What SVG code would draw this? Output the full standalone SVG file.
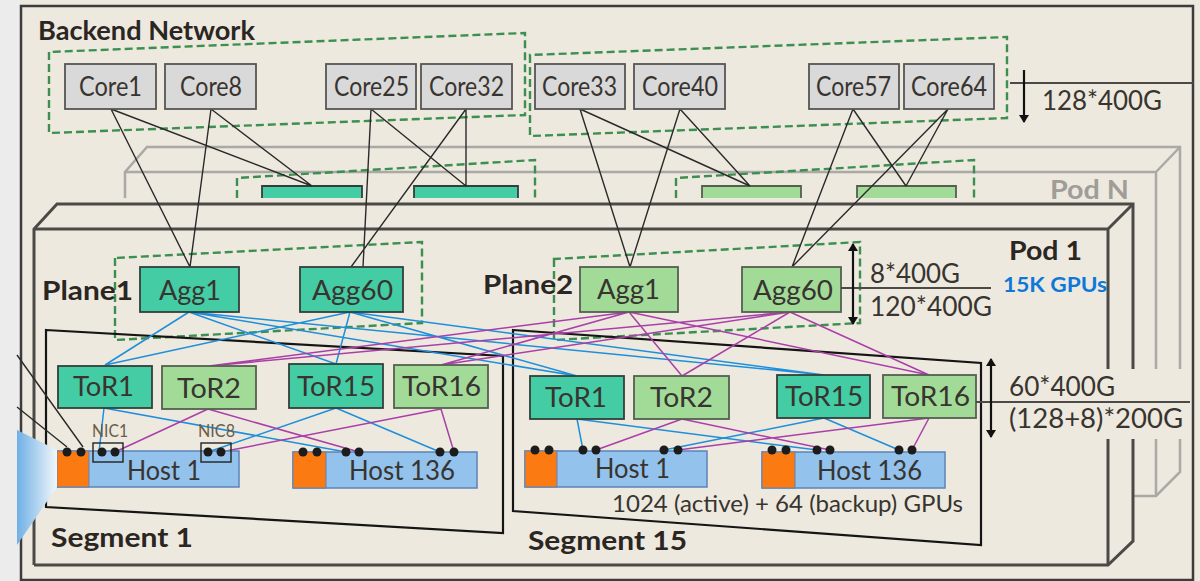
<svg xmlns="http://www.w3.org/2000/svg" width="1200" height="581" viewBox="0 0 1200 581">
<defs>
<linearGradient id="fan" x1="0" y1="0" x2="1" y2="0"><stop offset="0" stop-color="#6FB0E6"/><stop offset="1" stop-color="#F2F7FA"/></linearGradient>
<marker id="ah" viewBox="0 0 8 10" refX="7" refY="5" markerWidth="8" markerHeight="10" orient="auto-start-reverse" markerUnits="userSpaceOnUse"><path d="M0 0L8 5L0 10Z" fill="#111"/></marker>
</defs>
<style>
text{font-family:"Lato","Open Sans","Liberation Sans",sans-serif;fill:#38342f;font-size:27px}
.b{font-weight:700;fill:#2b2622}
.n{stroke-width:1.8}
.core{fill:#D9D9D9;stroke:#555}
.t{fill:#44CCA5;stroke:#333F3A}
.g{fill:#A2DB98;stroke:#555F50}
.host{fill:#93C2EC;stroke:#5E83B8;stroke-width:1.5}
.or{fill:#FC7A12;stroke:#5E83B8;stroke-width:1}
.d{fill:none;stroke:#3D8F50;stroke-width:2.4;stroke-dasharray:8 4}
.k{stroke:#2a2a2a;stroke-width:1.4;fill:none}
.bl{stroke:#1E8FDB;stroke-width:1.5;fill:none}
.pu{stroke:#AB3FA8;stroke-width:1.5;fill:none}
.pod{fill:none;stroke:#4c4a46;stroke-width:3}
.podn{fill:none;stroke:#aaa9a5;stroke-width:2.5}
.seg{fill:none;stroke:#151515;stroke-width:2.2}
.dot{fill:#1c1c1c}
.dim{stroke:#4c4a46;stroke-width:2;fill:none}
.ar{stroke:#111;stroke-width:2.2;fill:none}
</style>
<rect width="1200" height="581" fill="#EDE9DF"/>
<rect width="20" height="581" fill="#ECECEC"/>
<rect x="21" y="6" width="1172" height="574" fill="#EDE9DF" stroke="#3c3c3c" stroke-width="2.500"/>

<g id="pod-n">
<path class="podn" d="M125 198V172L147 147H1180V369M1180 439V472L1156 496H1133"/>
<path class="podn" d="M125 172H1156V369M1156 439V496M1156 172L1180 147"/>
<text x="1050" y="199" textLength="79" lengthAdjust="spacingAndGlyphs" font-weight="700" style="fill:#A09D98">Pod N</text>
</g>
<path class="d" d="M237 198V178L535 160V198"/>
<path class="d" d="M676 198V178L974 160V198"/>
<path d="M262 198V186H362V198M414 198V186H518V198" class="t n"/>
<path d="M702 198V186H801V198M857 198V186H956V198" class="g n"/>

<g id="pod-1">
<path class="pod" d="M34 565V229L57 204H1133V369M1133 439V541L1108 565H34"/>
<path class="pod" d="M34 229H1108V369M1108 439V565M1108 229L1133 204"/>
</g>

<path class="d" d="M49 52V133L525 115V33Z"/>
<path class="d" d="M530 55V136L1007 118V37Z"/>
<path class="d" d="M115 258V340L422 323V242Z"/>
<path class="d" d="M554 259V340L860 323V242Z"/>

<g id="segments">
<path class="seg" d="M46 330L503 356V533L46 507Z"/>
<path class="seg" d="M513 330L981 363V545L513 511Z"/>
</g>

<g id="connectors">
<path class="k" d="M111 109L190 267M111 109L312 186M211 109L190 267M211 109L312 186M371 109L363 267M371 109L466 186M466 109L351 267M466 109V186"/>
<path class="k" d="M580 109L630 267M580 109L750 186M680 109L630 267M680 109L750 186M853 109L792 267M853 109L906 186M948 109L792 267M948 109L906 186"/>
<path class="k" d="M17 355L83 447M17 407L67 447"/>
<path class="bl" d="M189 312L105 365M350 312L105 365M189 312L336 364M350 312L336 364M189 312L577 376M189 312L824 375M350 312L577 376M350 312L824 375"/>
<path class="pu" d="M629 312L209 366M790 312L209 366M629 312L441 365M790 312L441 365M629 312L682 376M790 312L682 376M629 312L929 375M790 312L929 375"/>
<path class="bl" d="M104 408L99 452M104 408L346 452M336 408L208 452M336 408L440 452"/>
<path class="pu" d="M208 409L115 452M208 409L359 452M441 409L221 452M441 409L454 452"/>
<path class="bl" d="M577 419L583 450M577 419L817 450M824 418L664 450M824 418L899 450"/>
<path class="pu" d="M682 419L596 450M682 419L830 450M929 418L678 450M929 418L912 450"/>
</g>

<g id="core1"><rect x="65" y="64" width="91" height="45" class="core n"/><text x="79" y="96" textLength="63" lengthAdjust="spacingAndGlyphs">Core1</text></g>
<g id="core8"><rect x="165" y="64" width="91" height="45" class="core n"/><text x="180" y="96" textLength="62" lengthAdjust="spacingAndGlyphs">Core8</text></g>
<g id="core25"><rect x="326" y="64" width="90" height="45" class="core n"/><text x="334" y="96" textLength="75" lengthAdjust="spacingAndGlyphs">Core25</text></g>
<g id="core32"><rect x="421" y="64" width="91" height="45" class="core n"/><text x="429" y="96" textLength="75" lengthAdjust="spacingAndGlyphs">Core32</text></g>
<g id="core33"><rect x="535" y="64" width="90" height="45" class="core n"/><text x="542" y="96" textLength="75" lengthAdjust="spacingAndGlyphs">Core33</text></g>
<g id="core40"><rect x="634" y="64" width="91" height="45" class="core n"/><text x="642" y="96" textLength="76" lengthAdjust="spacingAndGlyphs">Core40</text></g>
<g id="core57"><rect x="809" y="64" width="90" height="45" class="core n"/><text x="816" y="96" textLength="75" lengthAdjust="spacingAndGlyphs">Core57</text></g>
<g id="core64"><rect x="904" y="64" width="90" height="45" class="core n"/><text x="911" y="96" textLength="76" lengthAdjust="spacingAndGlyphs">Core64</text></g>

<g id="p1-agg1"><rect x="140" y="267" width="99" height="45" class="t n"/><text x="159" y="300" textLength="62" lengthAdjust="spacingAndGlyphs">Agg1</text></g>
<g id="p1-agg60"><rect x="300" y="267" width="103" height="45" class="t n"/><text x="312" y="300" textLength="81" lengthAdjust="spacingAndGlyphs">Agg60</text></g>
<g id="p2-agg1"><rect x="580" y="267" width="98" height="45" class="g n"/><text x="597" y="299" textLength="63" lengthAdjust="spacingAndGlyphs">Agg1</text></g>
<g id="p2-agg60"><rect x="742" y="267" width="99" height="45" class="g n"/><text x="753" y="300" textLength="80" lengthAdjust="spacingAndGlyphs">Agg60</text></g>

<g id="s1-tor1"><rect x="58" y="366" width="94" height="42" class="t n"/><text x="73" y="396" textLength="61" lengthAdjust="spacingAndGlyphs">ToR1</text></g>
<g id="s1-tor2"><rect x="162" y="366" width="94" height="43" class="g n"/><text x="177" y="398" textLength="64" lengthAdjust="spacingAndGlyphs">ToR2</text></g>
<g id="s1-tor15"><rect x="289" y="364" width="94" height="44" class="t n"/><text x="297" y="396" textLength="78" lengthAdjust="spacingAndGlyphs">ToR15</text></g>
<g id="s1-tor16"><rect x="394" y="365" width="94" height="43" class="g n"/><text x="402" y="396" textLength="79" lengthAdjust="spacingAndGlyphs">ToR16</text></g>
<g id="s15-tor1"><rect x="530" y="376" width="94" height="43" class="t n"/><text x="545" y="407" textLength="62" lengthAdjust="spacingAndGlyphs">ToR1</text></g>
<g id="s15-tor2"><rect x="634" y="376" width="95" height="43" class="g n"/><text x="650" y="407" textLength="63" lengthAdjust="spacingAndGlyphs">ToR2</text></g>
<g id="s15-tor15"><rect x="777" y="375" width="93" height="43" class="t n"/><text x="785" y="406" textLength="78" lengthAdjust="spacingAndGlyphs">ToR15</text></g>
<g id="s15-tor16"><rect x="883" y="375" width="93" height="43" class="g n"/><text x="891" y="406" textLength="79" lengthAdjust="spacingAndGlyphs">ToR16</text></g>

<g id="s1-host1"><rect x="57" y="451" width="182" height="36" class="host"/><rect x="57" y="451" width="32" height="36" class="or"/><text x="127" y="480" textLength="74" lengthAdjust="spacingAndGlyphs">Host 1</text></g>
<g id="s1-host136"><rect x="293" y="452" width="184" height="36" class="host"/><rect x="293" y="452" width="33" height="36" class="or"/><text x="349" y="480" textLength="106" lengthAdjust="spacingAndGlyphs">Host 136</text></g>
<g id="s15-host1"><rect x="525" y="451" width="182" height="36" class="host"/><rect x="525" y="451" width="32" height="36" class="or"/><text x="595" y="478" textLength="75" lengthAdjust="spacingAndGlyphs">Host 1</text></g>
<g id="s15-host136"><rect x="762" y="452" width="183" height="36" class="host"/><rect x="762" y="452" width="33" height="36" class="or"/><text x="817" y="480" textLength="105" lengthAdjust="spacingAndGlyphs">Host 136</text></g>

<g id="nics">
<rect x="93" y="443" width="30" height="19" fill="none" stroke="#222" stroke-width="1.400"/>
<rect x="201" y="443" width="30" height="19" fill="none" stroke="#222" stroke-width="1.400"/>
<text x="92" y="437" textLength="36" lengthAdjust="spacingAndGlyphs" style="font-size:17px;fill:#6d5d48">NIC1</text>
<text x="198" y="437" textLength="37" lengthAdjust="spacingAndGlyphs" style="font-size:17px;fill:#6d5d48">NIC8</text>
</g>
<g id="ports" class="dot">
<circle cx="67" cy="452" r="4.500"/><circle cx="81" cy="452" r="4.500"/><circle cx="102" cy="452" r="4.500"/><circle cx="115" cy="452" r="4.500"/><circle cx="208" cy="452" r="4.500"/><circle cx="221" cy="452" r="4.500"/>
<circle cx="303" cy="452" r="4.500"/><circle cx="317" cy="452" r="4.500"/><circle cx="346" cy="452" r="4.500"/><circle cx="359" cy="452" r="4.500"/><circle cx="440" cy="452" r="4.500"/><circle cx="454" cy="452" r="4.500"/>
<circle cx="535" cy="450" r="4.500"/><circle cx="549" cy="450" r="4.500"/><circle cx="583" cy="450" r="4.500"/><circle cx="596" cy="450" r="4.500"/><circle cx="664" cy="450" r="4.500"/><circle cx="678" cy="450" r="4.500"/>
<circle cx="772" cy="450" r="4.500"/><circle cx="786" cy="450" r="4.500"/><circle cx="817" cy="450" r="4.500"/><circle cx="830" cy="450" r="4.500"/><circle cx="899" cy="450" r="4.500"/><circle cx="912" cy="450" r="4.500"/>
</g>
<path d="M17 430L57 450V487L17 545Z" fill="url(#fan)"/>

<g id="annotations">
<path class="dim" d="M1010 83H1193M841 288H991M976 402H1190"/>
<path class="ar" d="M1024 70V122" marker-end="url(#ah)"/>
<path class="ar" d="M853 244V324" marker-start="url(#ah)" marker-end="url(#ah)"/>
<path class="ar" d="M991 359V437" marker-start="url(#ah)" marker-end="url(#ah)"/>
<text x="1042" y="110" textLength="120" lengthAdjust="spacingAndGlyphs">128*400G</text>
<text x="870" y="283" textLength="90" lengthAdjust="spacingAndGlyphs">8*400G</text>
<text x="870" y="316" textLength="122" lengthAdjust="spacingAndGlyphs">120*400G</text>
<text x="1009" y="396" textLength="106" lengthAdjust="spacingAndGlyphs">60*400G</text>
<text x="1009" y="428" textLength="174" lengthAdjust="spacingAndGlyphs">(128+8)*200G</text>
<text x="612" y="512" textLength="351" lengthAdjust="spacingAndGlyphs" style="font-size:23px">1024 (active) + 64 (backup) GPUs</text>
<text x="38" y="40" textLength="217" lengthAdjust="spacingAndGlyphs" class="b">Backend Network</text>
<text x="1009" y="260" textLength="73" lengthAdjust="spacingAndGlyphs" class="b">Pod 1</text>
<text x="1003" y="292" textLength="104" lengthAdjust="spacingAndGlyphs" style="font-size:21px;font-weight:700;fill:#0E78D8">15K GPUs</text>
<text x="42" y="300" textLength="91" lengthAdjust="spacingAndGlyphs" class="b">Plane1</text>
<text x="483" y="294" textLength="90" lengthAdjust="spacingAndGlyphs" class="b">Plane2</text>
<text x="51" y="547" textLength="142" lengthAdjust="spacingAndGlyphs" class="b">Segment 1</text>
<text x="528" y="550" textLength="159" lengthAdjust="spacingAndGlyphs" class="b">Segment 15</text>
</g>
</svg>
